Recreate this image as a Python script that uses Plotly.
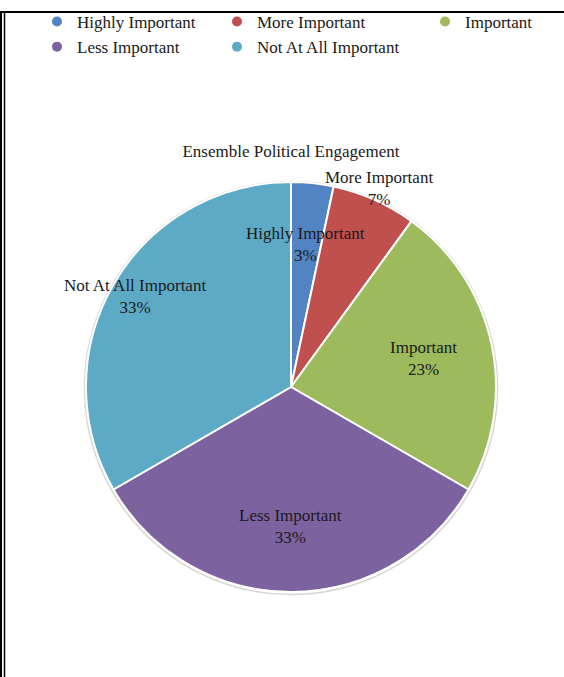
import numpy as np
import plotly.graph_objects as go

# Survey responses: ensemble political engagement
categories = ["Highly Important", "More Important", "Important",
              "Less Important", "Not At All Important"]
counts = [1, 2, 7, 10, 10]

colors = ["#5283C2", "#C0504D", "#9DBB5C", "#7D62A0", "#5DAAC6"]
label_radius = [0.70, 1.06, 0.66, 0.68, 0.88]   # label distance from centre, fraction of radius
legend_columns = [[0, 3], [1, 4], [2]]          # category indices per legend column
legend_left_px = [37, 217, 425]

W, H = 564, 677
FONT = "Liberation Serif, Times New Roman, serif"
TEXT = "#1a1a1a"

# Pie geometry (pixels)
cx_px, cy_px, R_px = 291, 387, 205

def px_x(x):
    return x / W

def px_y(y):
    return 1 - y / H

fig = go.Figure()
fig.add_trace(go.Pie(
    labels=categories,
    values=counts,
    sort=False,
    direction="clockwise",
    rotation=0,
    marker=dict(colors=colors, line=dict(color="white", width=2)),
    textinfo="none",
    hoverinfo="label+percent",
    showlegend=False,
    domain=dict(x=[px_x(cx_px - R_px), px_x(cx_px + R_px)],
                y=[px_y(cy_px + R_px), px_y(cy_px - R_px)]),
))

# Legend entries as circular markers, one legend per column
for col, idxs in enumerate(legend_columns):
    lname = "legend" if col == 0 else f"legend{col + 1}"
    for i in idxs:
        fig.add_trace(go.Scatter(
            x=[None], y=[None], mode="markers", name=categories[i],
            marker=dict(color=colors[i], size=10, symbol="circle"),
            legend=lname, showlegend=True,
        ))
    fig.update_layout(**{lname: dict(
        x=px_x(legend_left_px[col]), xanchor="left",
        y=px_y(4), yanchor="top",
        orientation="v", bgcolor="rgba(0,0,0,0)",
        font=dict(family=FONT, size=17, color=TEXT),
        itemclick=False, itemdoubleclick=False,
        tracegroupgap=0,
    )})

# Slice labels placed at each slice's mid angle
vals = np.array(counts, dtype=float)
share = vals / vals.sum()
mid = (np.cumsum(share) - share / 2) * 2 * np.pi
annotations = []
for i, cat in enumerate(categories):
    r = label_radius[i] * R_px
    x = cx_px + r * np.sin(mid[i])
    y = cy_px - r * np.cos(mid[i])
    annotations.append(dict(
        x=px_x(x), y=px_y(y), xref="paper", yref="paper",
        text=f"{cat}<br>{round(share[i] * 100):.0f}%",
        showarrow=False, xanchor="center", yanchor="middle",
        font=dict(family=FONT, size=17, color=TEXT),
    ))

# Frame lines
shapes = [
    dict(type="line", xref="paper", yref="paper",
         x0=0, x1=1, y0=px_y(12), y1=px_y(12),
         line=dict(color="black", width=2)),
    dict(type="line", xref="paper", yref="paper",
         x0=px_x(1), x1=px_x(1), y0=px_y(11), y1=0,
         line=dict(color="black", width=2)),
    dict(type="line", xref="paper", yref="paper",
         x0=px_x(4.5), x1=px_x(4.5), y0=px_y(12), y1=0,
         line=dict(color="black", width=1.5)),
    # faint rim around the pie
    dict(type="circle", xref="paper", yref="paper", layer="below",
         x0=px_x(cx_px - R_px - 1.5), x1=px_x(cx_px + R_px + 1.5),
         y0=px_y(cy_px + R_px + 2.5), y1=px_y(cy_px - R_px - 0.5),
         line=dict(color="#d6d6d6", width=1.5)),
]

fig.update_layout(
    width=W, height=H,
    margin=dict(l=0, r=0, t=0, b=0),
    paper_bgcolor="white", plot_bgcolor="white",
    title=dict(text="Ensemble Political Engagement",
               x=px_x(cx_px), xanchor="center", xref="paper",
               y=px_y(151), yanchor="middle", yref="paper",
               font=dict(family=FONT, size=17, color=TEXT)),
    xaxis=dict(visible=False), yaxis=dict(visible=False),
    annotations=annotations,
    shapes=shapes,
)

fig.write_html("out.html")
